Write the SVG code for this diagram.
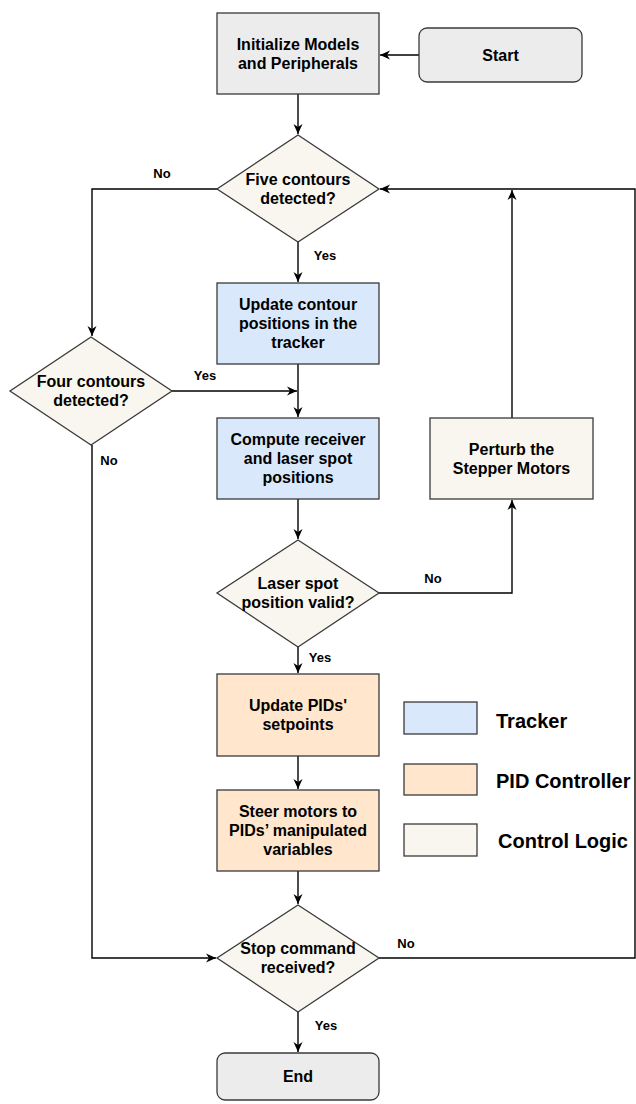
<svg xmlns="http://www.w3.org/2000/svg" width="636" height="1104" viewBox="0 0 636 1104">
<style>
.box{stroke:#3a3a3a;stroke-width:1.3}
.gray{fill:#ececec}
.blue{fill:#dae8fc}
.orange{fill:#ffe6cc}
.ctrl{fill:#f8f6ee}
.t{font-family:"Liberation Sans",Arial,sans-serif;font-weight:bold;font-size:16px;fill:#000;text-anchor:middle}
.lbl{font-family:"Liberation Sans",Arial,sans-serif;font-weight:bold;font-size:13px;fill:#000;text-anchor:middle}
.leg{font-family:"Liberation Sans",Arial,sans-serif;font-weight:bold;font-size:20px;fill:#000}
.c{fill:none;stroke:#000;stroke-width:1.4}
</style>
<defs>
<marker id="arr" markerUnits="userSpaceOnUse" markerWidth="12" markerHeight="10" refX="10" refY="5" orient="auto">
<path d="M0,0.5 L10,5 L0,9.5 L3,5 Z" fill="#000"/>
</marker>
</defs>
<rect width="636" height="1104" fill="#fff"/>
<g id="connectors">
<path class="c" d="M419,55 H380" marker-end="url(#arr)"/>
<path class="c" d="M298,94 V134" marker-end="url(#arr)"/>
<path class="c" d="M298,242 V282" marker-end="url(#arr)"/>
<path class="c" d="M298,364 V417" marker-end="url(#arr)"/>
<path class="c" d="M217,189 H92 V336" marker-end="url(#arr)"/>
<path class="c" d="M172,391 H297" marker-end="url(#arr)"/>
<path class="c" d="M298,499 V539" marker-end="url(#arr)"/>
<path class="c" d="M379,593 H512 V500" marker-end="url(#arr)"/>
<path class="c" d="M512,418 V190" marker-end="url(#arr)"/>
<path class="c" d="M298,647 V673" marker-end="url(#arr)"/>
<path class="c" d="M298,756 V789" marker-end="url(#arr)"/>
<path class="c" d="M298,871 V904" marker-end="url(#arr)"/>
<path class="c" d="M92,445 V958 H216" marker-end="url(#arr)"/>
<path class="c" d="M379,958 H635 V189 H380" marker-end="url(#arr)"/>
<path class="c" d="M298,1012 V1052" marker-end="url(#arr)"/>
<text class="lbl" x="162" y="178">No</text>
<text class="lbl" x="325" y="260">Yes</text>
<text class="lbl" x="205" y="380">Yes</text>
<text class="lbl" x="109" y="465">No</text>
<text class="lbl" x="433" y="583">No</text>
<text class="lbl" x="320" y="662">Yes</text>
<text class="lbl" x="406" y="948">No</text>
<text class="lbl" x="326" y="1030">Yes</text>
</g>
<g id="init">
<rect class="box gray" x="217" y="13" width="162" height="81"/>
<text class="t" x="298" y="50">Initialize Models</text>
<text class="t" x="298" y="69">and Peripherals</text>
</g>
<g id="start">
<rect class="box gray" x="419" y="28" width="163" height="54" rx="8"/>
<text class="t" x="500.5" y="60.5">Start</text>
</g>
<g id="five">
<polygon class="box ctrl" points="298,135 379,189 298,242 217,189"/>
<text class="t" x="298" y="185">Five contours</text>
<text class="t" x="298" y="204">detected?</text>
</g>
<g id="update">
<rect class="box blue" x="217" y="283" width="162" height="81"/>
<text class="t" x="298" y="310">Update contour</text>
<text class="t" x="298" y="329">positions in the</text>
<text class="t" x="298" y="348">tracker</text>
</g>
<g id="four">
<polygon class="box ctrl" points="91,337 172,391 91,445 10,391"/>
<text class="t" x="91" y="387">Four contours</text>
<text class="t" x="91" y="406">detected?</text>
</g>
<g id="compute">
<rect class="box blue" x="217" y="418" width="162" height="81"/>
<text class="t" x="298" y="445">Compute receiver</text>
<text class="t" x="298" y="464">and laser spot</text>
<text class="t" x="298" y="483">positions</text>
</g>
<g id="perturb">
<rect class="box ctrl" x="430" y="418" width="163" height="81"/>
<text class="t" x="511.5" y="455">Perturb the</text>
<text class="t" x="511.5" y="474">Stepper Motors</text>
</g>
<g id="laser">
<polygon class="box ctrl" points="298,540 379,593 298,647 217,593"/>
<text class="t" x="298" y="589">Laser spot</text>
<text class="t" x="298" y="608">position valid?</text>
</g>
<g id="pids">
<rect class="box orange" x="217" y="674" width="162" height="82"/>
<text class="t" x="298" y="711">Update PIDs'</text>
<text class="t" x="298" y="730">setpoints</text>
</g>
<g id="steer">
<rect class="box orange" x="217" y="790" width="162" height="81"/>
<text class="t" x="298" y="817">Steer motors to</text>
<text class="t" x="298" y="836">PIDs’ manipulated</text>
<text class="t" x="298" y="855">variables</text>
</g>
<g id="stop">
<polygon class="box ctrl" points="298,905 379,958 298,1012 217,958"/>
<text class="t" x="298" y="954">Stop command</text>
<text class="t" x="298" y="973">received?</text>
</g>
<g id="end">
<rect class="box gray" x="217" y="1053" width="162" height="47" rx="8"/>
<text class="t" x="298" y="1082">End</text>
</g>
<g id="legend">
<rect class="box blue" x="404" y="702" width="73" height="32"/>
<text class="leg" x="496" y="728">Tracker</text>
<rect class="box orange" x="404" y="764" width="73" height="31"/>
<text class="leg" x="496" y="788">PID Controller</text>
<rect class="box ctrl" x="404" y="824" width="73" height="32"/>
<text class="leg" x="498" y="848">Control Logic</text>
</g>
</svg>
